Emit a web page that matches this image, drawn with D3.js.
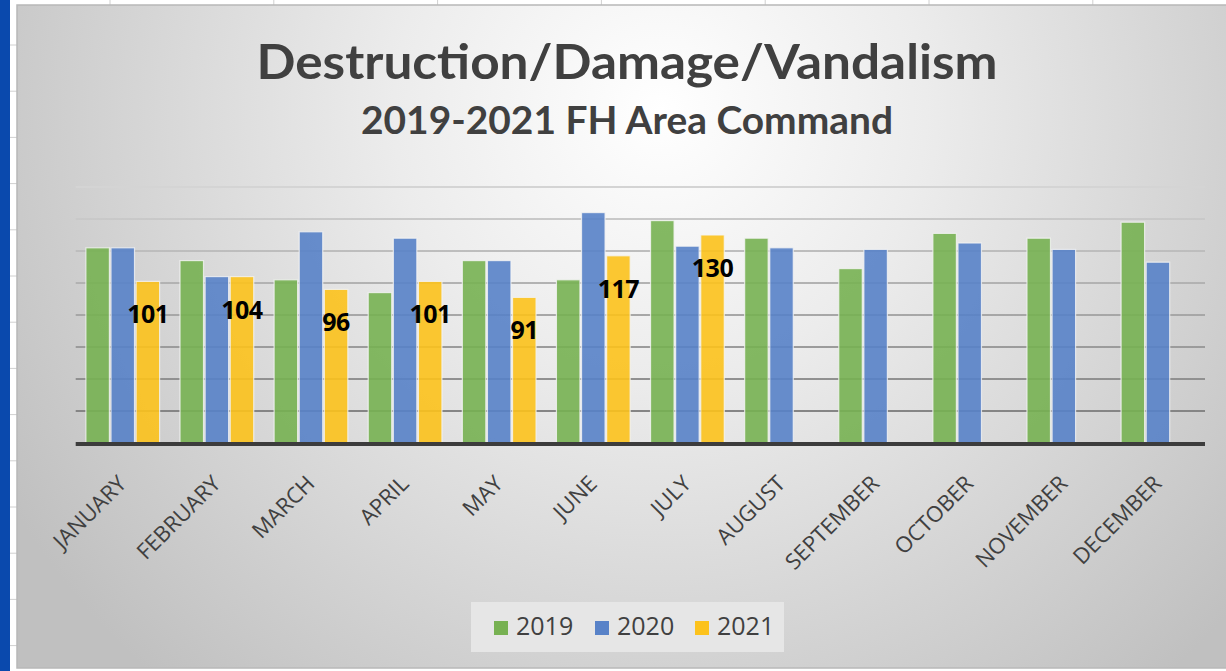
<!DOCTYPE html>
<html>
<head>
<meta charset="utf-8">
<script src="https://cdn.jsdelivr.net/npm/d3@7"></script>
<style>
  body { margin: 0; background: #fff; }
  svg { display: block; }
</style>
</head>
<body>
<div id="chart"></div>
<script>
var width = 1226,
	height = 671;

var months = ['JANUARY', 'FEBRUARY', 'MARCH', 'APRIL', 'MAY', 'JUNE', 'JULY',
	'AUGUST', 'SEPTEMBER', 'OCTOBER', 'NOVEMBER', 'DECEMBER'];
var years = ['2019', '2020', '2021'];
var values2019 = [122, 114, 102, 94, 114, 102, 139, 128, 109, 131, 128, 138];
var values2020 = [122, 104, 132, 128, 114, 144, 123, 122, 121, 125, 121, 113];
var values2021 = [101, 104, 96, 101, 91, 117, 130, null, null, null, null, null];
var yTicks = [20, 40, 60, 80, 100, 120, 140, 160];
var colors = ['#77b152', '#5882c8', '#fcc21c'];

var series = [values2019, values2020, values2021];

var svg = d3.select('#chart').append('svg')
	.attr('width', width)
	.attr('height', height);

var defs = svg.append('defs');

var bg = defs.append('radialGradient')
	.attr('id', 'bg')
	.attr('gradientUnits', 'userSpaceOnUse')
	.attr('cx', 660).attr('cy', 110).attr('r', 760);
bg.append('stop').attr('offset', 0).attr('stop-color', '#ffffff');
bg.append('stop').attr('offset', 0.35).attr('stop-color', '#ececec');
bg.append('stop').attr('offset', 1).attr('stop-color', '#c0c0c0');

var gridGrad = defs.append('linearGradient')
	.attr('id', 'gridGrad')
	.attr('gradientUnits', 'userSpaceOnUse')
	.attr('x1', 0).attr('y1', 187).attr('x2', 0).attr('y2', 411);
gridGrad.append('stop').attr('offset', 0).attr('stop-color', '#d4d4d4');
gridGrad.append('stop').attr('offset', 1).attr('stop-color', '#858585');

// spreadsheet behind the chart
svg.append('rect').attr('x', 0).attr('y', 0).attr('width', 10).attr('height', height)
	.attr('fill', '#0a49ad');
svg.selectAll('.sheetRow')
	.data(d3.range(0, 15))
	.enter().append('line')
	.attr('x1', 10).attr('x2', 17)
	.attr('y1', function(d) { return 45 + d * 46.2; })
	.attr('y2', function(d) { return 45 + d * 46.2; })
	.attr('stroke', '#d0d0d0');
svg.selectAll('.sheetCol')
	.data(d3.range(0, 7))
	.enter().append('line')
	.attr('x1', function(d) { return 110 + d * 163.8; })
	.attr('x2', function(d) { return 110 + d * 163.8; })
	.attr('y1', 0).attr('y2', 5)
	.attr('stroke', '#d0d0d0');

svg.append('rect')
	.attr('x', 17).attr('y', 5)
	.attr('width', 1215).attr('height', 663)
	.attr('fill', 'url(#bg)')
	.attr('stroke', '#b8b8b8')
	.attr('stroke-width', 1.5);

// titles
svg.append('text')
	.attr('x', 627).attr('y', 79)
	.attr('text-anchor', 'middle')
	.attr('font-family', 'Lato, "Open Sans", sans-serif')
	.attr('font-weight', 'bold')
	.attr('font-size', 48)
	.attr('fill', '#404040')
	.attr('textLength', 741)
	.attr('lengthAdjust', 'spacingAndGlyphs')
	.text('Destruction/Damage/Vandalism');

svg.append('text')
	.attr('x', 627).attr('y', 134)
	.attr('text-anchor', 'middle')
	.attr('font-family', 'Lato, "Open Sans", sans-serif')
	.attr('font-weight', 'bold')
	.attr('font-size', 38)
	.attr('fill', '#404040')
	.attr('textLength', 532)
	.attr('lengthAdjust', 'spacingAndGlyphs')
	.text('2019-2021 FH Area Command');

var x0 = d3.scaleBand().domain(months).range([75.7, 1205]);
var x1 = d3.scaleBand().domain(years).range([0, x0.bandwidth()])
	.paddingInner(0.064).paddingOuter(0.406);
var y = d3.scaleLinear().domain([0, 160]).range([443, 187]);

var g = svg.append('g');

g.selectAll('.grid')
	.data(yTicks)
	.enter().append('line')
	.attr('class', 'grid')
	.attr('x1', 75.7).attr('x2', 1205)
	.attr('y1', function(d) { return y(d); })
	.attr('y2', function(d) { return y(d); })
	.attr('stroke', 'url(#gridGrad)')
	.attr('stroke-width', 2.2);

series.forEach(function(vals, si) {
	g.selectAll('.bar' + si)
		.data(vals.map(function(v, i) { return { m: months[i], v: v }; })
			.filter(function(d) { return d.v != null; }))
		.enter().append('rect')
		.attr('class', 'bar' + si)
		.attr('x', function(d) { return x0(d.m) + x1(years[si]); })
		.attr('y', function(d) { return y(d.v); })
		.attr('width', x1.bandwidth())
		.attr('height', function(d) { return y(0) - y(d.v); })
		.attr('fill', colors[si])
		.attr('fill-opacity', 0.9)
		.attr('stroke', '#f4f4f4')
		.attr('stroke-opacity', 0.8)
		.attr('stroke-width', 1.2);
});

// axis line
g.append('line')
	.attr('x1', 75.7).attr('x2', 1205)
	.attr('y1', y(0) + 1).attr('y2', y(0) + 1)
	.attr('stroke', '#3c3c3c')
	.attr('stroke-width', 4);

// 2021 data labels
g.selectAll('.lbl')
	.data(values2021.map(function(v, i) { return { m: months[i], v: v }; })
		.filter(function(d) { return d.v != null; }))
	.enter().append('text')
	.attr('class', 'lbl')
	.attr('x', function(d) { return x0(d.m) + x1('2021') + x1.bandwidth() / 2; })
	.attr('y', function(d) { return y(d.v) + 42; })
	.attr('text-anchor', 'middle')
	.attr('font-family', '"Open Sans", sans-serif')
	.attr('font-weight', 'bold')
	.attr('font-size', 25)
	.attr('letter-spacing', -0.5)
	.attr('fill', '#000')
	.text(function(d) { return d.v; });

// month labels
g.selectAll('.month')
	.data(months)
	.enter().append('text')
	.attr('class', 'month')
	.attr('transform', function(d) {
		return 'translate(' + (x0(d) + x0.bandwidth() / 2 + 5) + ',' + 485 + ') rotate(-45)';
	})
	.attr('text-anchor', 'end')
	.attr('font-family', '"Open Sans", sans-serif')
	.attr('font-size', 22)
	.attr('fill', '#404040')
	.text(function(d) { return d; });

// legend
var legend = svg.append('g');
legend.append('rect')
	.attr('x', 471).attr('y', 602)
	.attr('width', 313).attr('height', 50)
	.attr('fill', '#e6e6e6');

var legendX = [494, 595, 695];
years.forEach(function(yr, i) {
	legend.append('rect')
		.attr('x', legendX[i]).attr('y', 621)
		.attr('width', 14).attr('height', 14)
		.attr('fill', colors[i]);
	legend.append('text')
		.attr('x', legendX[i] + 22).attr('y', 635)
		.attr('font-family', '"Open Sans", sans-serif')
		.attr('font-size', 25)
		.attr('fill', '#404040')
		.text(yr);
});
</script>
</body>
</html>
